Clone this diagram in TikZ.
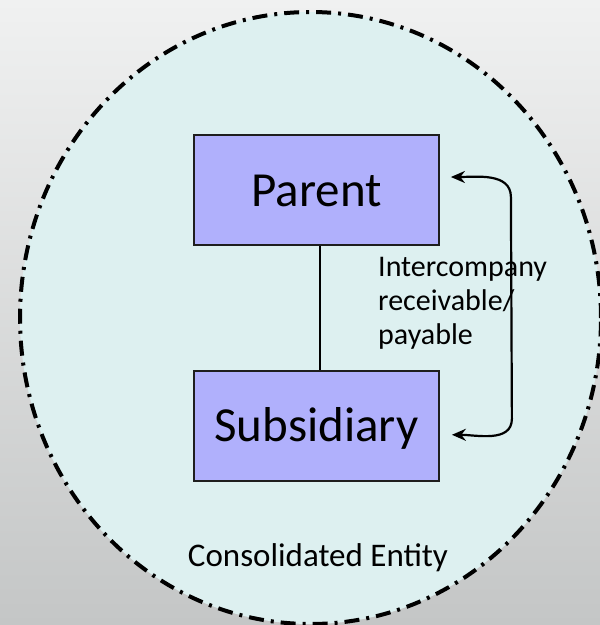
\documentclass[tikz,border=0pt]{standalone}
\usepackage{fontspec}
\setmainfont{Carlito}
\usetikzlibrary{arrows.meta}
\usetikzlibrary{positioning}
\usetikzlibrary{shapes.geometric}
\definecolor{bgtop}{RGB}{240,241,241}
\definecolor{bgbottom}{RGB}{196,198,198}
\definecolor{groupfill}{RGB}{221,240,240}
\definecolor{boxfill}{RGB}{176,176,252}
\definecolor{boxline}{RGB}{30,30,30}

\begin{document}
\begin{tikzpicture}[x=1pt,y=-1pt]
		  \tikzset{
			entitybox/.style={draw=boxline,fill=boxfill,line width=1.8pt,
			  minimum width=245pt,minimum height=110pt,inner sep=0pt,
			  text height=32pt,text depth=0pt,font=\fontsize{49}{55}\selectfont},
			linkarrow/.style={line width=2.2pt,{Stealth[length=14pt,width=12pt]}-{Stealth[length=14pt,width=12pt]}},
		  }
		  %BACKGROUND
		  \useasboundingbox (0,0) rectangle (600,625);
		  \clip (0,0) rectangle (600,625);
		  \shade[top color=bgtop,bottom color=bgbottom] (0,0) rectangle (600,625);
		  %ELLIPSE
		  \node[ellipse,draw=black,fill=groupfill,minimum width=581pt,minimum height=612pt,inner sep=0pt,
			line width=4pt,dash pattern=on 15pt off 7pt on 3pt off 7pt] (group) at (310.5,318) {};
		  %BOXES
		  \node[entitybox] (parent) at (316.5,190) {Parent};
		  \node[entitybox,below=124pt of parent] (sub) {Subsidiary};
		  \draw[line width=2pt] ([xshift=3.5pt]parent.south) -- ([xshift=3.5pt]sub.north);
		  %ARROW
		  \coordinate (pin) at ([shift={(11pt,13pt)}]parent.east);
		  \coordinate (pout) at ([shift={(12pt,-9pt)}]sub.east);
		  \coordinate (bendtop) at ([shift={(60pt,-20pt)}]pin);
		  \coordinate (bendbot) at ([shift={(60pt,16pt)}]pout);
		  \draw[linkarrow] (pin) to[out=0,in=90] (bendtop) -- (bendbot) to[out=-90,in=0] (pout);
		  %LABELS
		  \node[anchor=base west,align=left,inner sep=0pt,font=\fontsize{30}{34}\selectfont] (flow) at (378,344)
			{Intercompany\\receivable/\\payable};
		  \node[anchor=base,inner sep=0pt,font=\fontsize{33}{38}\selectfont] (caption) at (318,566) {Consolidated Entity};
\end{tikzpicture}
\end{document}
